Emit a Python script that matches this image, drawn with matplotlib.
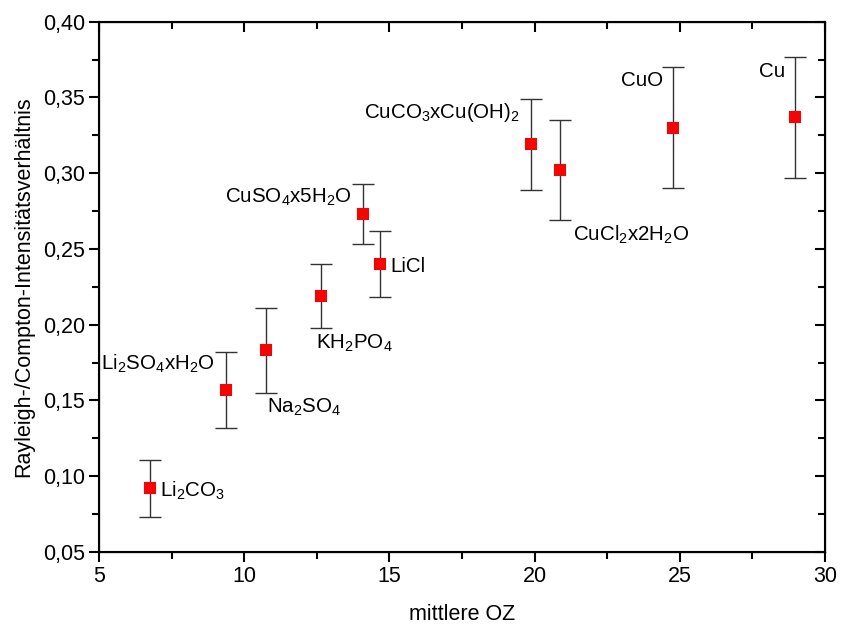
import matplotlib
matplotlib.use("Agg")
import matplotlib.pyplot as plt
from matplotlib.ticker import MultipleLocator, FuncFormatter

plt.rcParams['font.family'] = ['Liberation Sans', 'DejaVu Sans']
plt.rcParams['mathtext.fontset'] = 'custom'
plt.rcParams['mathtext.rm'] = 'Liberation Sans'
plt.rcParams['mathtext.it'] = 'Liberation Sans'
plt.rcParams['mathtext.default'] = 'regular'

# Data
substances = [r'Li$_2$CO$_3$', r'Li$_2$SO$_4$xH$_2$O', r'Na$_2$SO$_4$', r'KH$_2$PO$_4$',
              r'CuSO$_4$x5H$_2$O', 'LiCl', r'CuCO$_3$xCu(OH)$_2$', r'CuCl$_2$x2H$_2$O',
              'CuO', 'Cu']
oz = [6.75, 9.39, 10.76, 12.65, 14.09, 14.67, 19.87, 20.88, 24.78, 28.95]
ratio = [0.092, 0.157, 0.183, 0.219, 0.273, 0.240, 0.319, 0.302, 0.330, 0.337]
err = [0.019, 0.025, 0.028, 0.021, 0.020, 0.022, 0.030, 0.033, 0.040, 0.040]

# label layout (data coords, alignment)
label_pos = [(7.10, 0.0863, 'left'), (8.99, 0.170, 'right'), (10.79, 0.1417, 'left'),
             (12.47, 0.184, 'left'), (13.71, 0.2804, 'right'), (15.02, 0.2348, 'left'),
             (19.50, 0.3365, 'right'), (21.32, 0.2553, 'left'), (24.42, 0.3576, 'right'),
             (28.62, 0.3635, 'right')]

fig = plt.figure(figsize=(8.41, 6.31), dpi=100)
ax = fig.add_axes([0.1177, 0.1252, 0.8633, 0.8404])

ax.errorbar(oz, ratio, yerr=err, fmt='none', ecolor='#333333', elinewidth=1.0,
            capsize=8, capthick=1.0, zorder=2)
ax.plot(oz, ratio, 's', color='#ff0000', markersize=8.5, markeredgewidth=0, zorder=3)

for name, (lx, ly, ha) in zip(substances, label_pos):
    ax.text(lx, ly, name, ha=ha, va='baseline', fontsize=14.8, color='black')

ax.set_xlim(5, 30)
ax.set_ylim(0.05, 0.40)
ax.xaxis.set_major_locator(MultipleLocator(5))
ax.xaxis.set_minor_locator(MultipleLocator(2.5))
ax.yaxis.set_major_locator(MultipleLocator(0.05))
ax.yaxis.set_minor_locator(MultipleLocator(0.025))
ax.yaxis.set_major_formatter(FuncFormatter(lambda v, p: f"{v:.2f}".replace('.', ',')))
ax.xaxis.set_major_formatter(FuncFormatter(lambda v, p: f"{v:.0f}"))

for s in ax.spines.values():
    s.set_linewidth(1.5)

ax.tick_params(which='both', direction='out', top=False, right=False, labelsize=15.5, width=1.5)
ax.tick_params(which='major', length=7, pad=3)
ax.tick_params(which='minor', length=5)

# inward ticks on top and right
ax2 = ax.twinx()
ax2.set_ylim(ax.get_ylim())
ax2.yaxis.set_major_locator(MultipleLocator(0.05))
ax2.yaxis.set_minor_locator(MultipleLocator(0.025))
ax2.tick_params(which='both', direction='in', labelright=False, width=1.5)
ax2.tick_params(which='major', length=7)
ax2.tick_params(which='minor', length=5)
ax3 = ax.twiny()
ax3.set_xlim(ax.get_xlim())
ax3.xaxis.set_major_locator(MultipleLocator(5))
ax3.xaxis.set_minor_locator(MultipleLocator(2.5))
ax3.tick_params(which='both', direction='in', labeltop=False, width=1.5)
ax3.tick_params(which='major', length=7)
ax3.tick_params(which='minor', length=5)

ax.set_xlabel('mittlere OZ', fontsize=15.5, labelpad=12)
ax.set_ylabel('Rayleigh-/Compton-Intensitätsverhältnis', fontsize=15.5, labelpad=6)

fig.savefig('out.png', dpi=100)
